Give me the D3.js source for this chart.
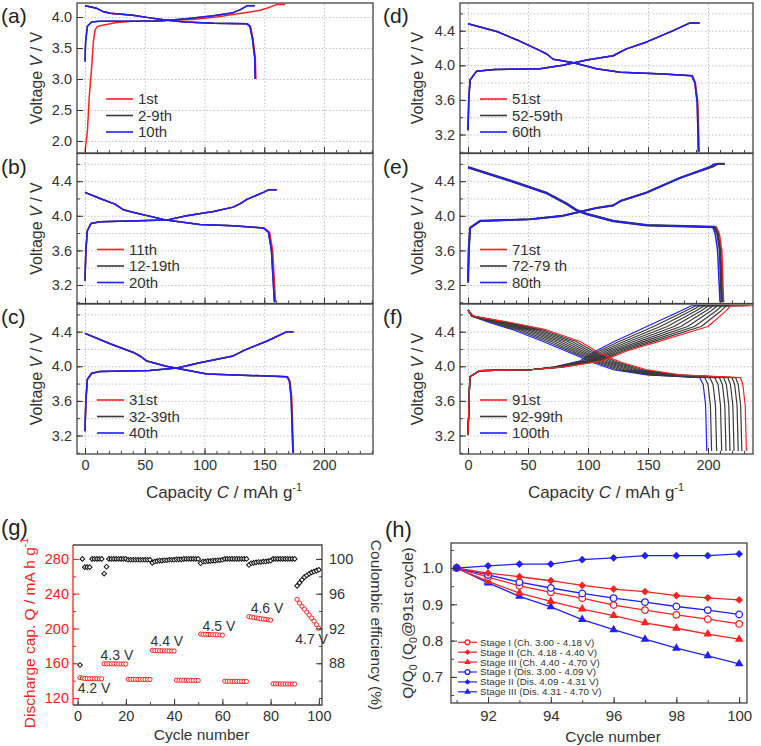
<!DOCTYPE html>
<html><head><meta charset="utf-8">
<script src="https://cdn.jsdelivr.net/npm/d3@7"></script>
<style>body{margin:0;background:#fff}text{font-family:'Liberation Sans',Arial,sans-serif}</style>
</head><body><script>
// ---------------- DATA ----------------
const capMajor = [0, 50, 100, 150, 200];
const capMinor = [0,10,20,30,40,50,60,70,80,90,100,110,120,130,140,150,160,170,180,190,200,210,220,230,240];
const voltTicksA = [2.0, 2.5, 3.0, 3.5, 4.0];
const voltTicks = [3.2, 3.6, 4.0, 4.4];
const voltGrid = [3.2, 3.4, 3.6, 3.8, 4.0, 4.2, 4.4, 4.6];
const voltMinor = [3.0, 3.2, 3.4, 3.6, 3.8, 4.0, 4.2, 4.4, 4.6];

// panel (a): cycles 1st / 2-9th / 10th
const aChg1 = [[0,1.83],[1,2.0],[2,2.15],[3.5,2.7],[5.6,3.2],[7,3.6],[8.4,3.79],[10,3.84],[12.6,3.86],[26.5,3.91],[40,3.93],[60,3.94],[90,3.96],[110,4.0],[124,4.04],[138,4.08],[146.6,4.11],[152,4.14],[160,4.2],[167.5,4.2]];
const aDis1 = [[0,4.18],[5,4.16],[9.8,4.14],[15,4.09],[21,4.06],[40,4.03],[53,3.99],[67,3.95],[84,3.92],[107.5,3.9],[136,3.89],[138.5,3.85],[140.5,3.66],[142.5,3.35],[143,3.0]];
const aChg10 = [[0,3.28],[0.5,3.6],[2,3.85],[5.6,3.92],[12,3.93],[62,3.935],[85,3.97],[107.5,4.02],[124,4.07],[130,4.12],[135.5,4.18],[142,4.18]];
const aDis10 = [[0,4.18],[5,4.16],[9.8,4.14],[15,4.09],[21,4.06],[40,4.03],[53,3.99],[67,3.95],[84,3.92],[107.5,3.9],[135.5,3.89],[138,3.85],[140,3.66],[142,3.35],[142.4,3.0]];
// panel (b): 11th / 12-19th / 20th
const bChg = [[0,3.25],[0.7,3.6],[2,3.83],[5,3.91],[12.6,3.93],[68,3.95],[85,4.0],[107.5,4.05],[124,4.1],[130,4.14],[135.5,4.19],[149.3,4.27],[153.5,4.3],[160.5,4.3]];
const bDis11 = [[0,4.27],[12.6,4.2],[25,4.135],[32,4.07],[40,4.04],[68,3.95],[96,3.9],[124,3.885],[150,3.86],[154.5,3.81],[157,3.6],[159.5,3.0]];
const bDis20 = [[0,4.27],[12.6,4.2],[25,4.135],[32,4.07],[40,4.04],[68,3.95],[96,3.9],[124,3.885],[149,3.86],[153.5,3.81],[156,3.6],[158.5,3.0]];
// panel (c): 31st / 32-39th / 40th
const cChg = [[0,3.25],[0.7,3.6],[2,3.85],[5.6,3.92],[12.6,3.94],[54,3.95],[77,3.98],[96,4.04],[124,4.12],[134,4.19],[152,4.29],[169,4.4],[174.5,4.4]];
const cDis31 = [[0,4.38],[21,4.26],[40.5,4.16],[47,4.11],[51.7,4.06],[68,4.0],[102,3.91],[169.5,3.88],[171.5,3.83],[173,3.64],[174.5,3.0]];
const cDis40 = [[0,4.38],[21,4.26],[40.5,4.16],[47,4.11],[51.7,4.06],[68,4.0],[102,3.91],[169,3.88],[171,3.83],[172.5,3.64],[174,3.0]];
// panel (d): 51st / 52-59th / 60th
const dChg = [[0,3.25],[0.6,3.6],[1.7,3.83],[7,3.93],[22,3.95],[60,3.96],[79,4.0],[99,4.06],[121,4.11],[132,4.19],[149,4.27],[171,4.4],[185,4.49],[193,4.49]];
const dDis51 = [[0,4.48],[24,4.39],[43,4.28],[60,4.17],[65.6,4.13],[71,4.07],[88,4.03],[107,3.96],[127,3.92],[163,3.9],[187,3.88],[189.5,3.8],[191.5,3.57],[192.8,3.0]];
const dDis60 = [[0,4.48],[24,4.39],[43,4.28],[60,4.17],[65.6,4.13],[71,4.07],[88,4.03],[107,3.96],[127,3.92],[163,3.9],[186.4,3.88],[189,3.8],[191,3.57],[192,3.0]];
// panel (e): 71st / 72-79th / 80th
const eChg71 = [[0,3.23],[0.6,3.6],[1.7,3.86],[10,3.94],[52,3.96],[79,4.0],[107,4.09],[121,4.12],[127,4.17],[149,4.27],[177,4.44],[204,4.57],[208,4.6],[214,4.6]];
const eChg80 = [[0,3.23],[0.6,3.6],[1.7,3.86],[10,3.94],[52,3.96],[79,4.0],[107,4.09],[121,4.12],[127,4.17],[149,4.27],[177,4.44],[202,4.57],[205,4.6],[210,4.6]];
const eDis71 = [[0,4.56],[32,4.42],[66,4.26],[82,4.14],[91,4.06],[99,4.02],[121,3.94],[149,3.89],[207,3.87],[209.5,3.79],[211.5,3.6],[213,3.0]];
const eDis75 = [[0,4.56],[32,4.42],[66,4.26],[82,4.14],[91,4.06],[99,4.02],[121,3.94],[149,3.89],[205.5,3.87],[208,3.79],[210,3.6],[211.5,3.0]];
const eDis80 = [[0,4.56],[32,4.42],[66,4.26],[82,4.14],[91,4.06],[99,4.02],[121,3.94],[149,3.89],[204,3.87],[206,3.79],[208,3.6],[210,3.0]];
// panel (f): cycles 91..100 on shared voltage levels
const fCycles = [91, 92, 93, 94, 95, 96, 97, 98, 99, 100];
const fChgV = [3.21, 3.88, 3.95, 3.96, 3.99, 4.06, 4.18, 4.28, 4.46, 4.64, 4.70, 4.70];
const fChgCap = [
  [0,1.5,10,52,79,111,133,157,200,215,219,239],
  [0,1.5,10,52,78.1,109,130.1,153,194.3,210.8,215.3,234],
  [0,1.5,10,52,77.2,107,127.2,149,188.7,206.6,211.7,230],
  [0,1.5,10,52,76.3,105,124.3,145,183,202.3,208,226],
  [0,1.5,10,52,75.4,103,121.4,141,177.3,198.1,204.3,222],
  [0,1.5,10,52,74.6,101,118.6,137,171.7,193.9,200.7,218],
  [0,1.5,10,52,73.7,99,115.7,133,166,189.7,197,214],
  [0,1.5,10,52,72.8,97,112.8,129,160.3,185.4,193.3,210],
  [0,1.5,10,52,71.9,95,109.9,125,154.7,181.2,189.7,206],
  [0,1.5,10,52,71,93,107,121,149,177,186,202]
];
const fDisV = [4.65, 4.58, 4.50, 4.42, 4.29, 4.15, 4.05, 3.96, 3.90, 3.87, 3.79, 3.55, 3.02];
const fDisCap = [
  [0,4.4,37.8,65.6,93,110,127,149,177,227,229,231,232],
  [0,4.2,35.7,62.5,89.6,107.3,124.3,145.9,173.9,223,225.2,227.2,228.2],
  [0,4.1,33.6,59.5,86.1,104.7,121.7,142.8,170.8,220,222.2,224.2,225.2],
  [0,3.9,31.5,56.4,82.7,102,119,139.7,167.7,216.5,218.7,220.7,221.7],
  [0,3.8,29.4,53.3,79.2,99.3,116.3,136.6,164.6,213,215.3,217.3,218.3],
  [0,3.6,27.4,50.3,75.8,96.7,113.7,133.4,161.4,209.5,212,214,215],
  [0,3.4,25.3,47.2,72.4,94,111,130.3,158.3,205.6,208.4,210.4,211.4],
  [0,3.3,23.2,44.1,68.9,91.3,108.3,127.2,155.2,201.5,204.2,206.2,207.2],
  [0,3.1,21.1,41.1,65.5,88.7,105.7,124.1,152.1,197.2,200,202,203],
  [0,3,19,38,62,86,103,121,149,193,196,198,199]
];

// panel (g)
const cycleNums = d3.range(1, 101);
const dischargeCap = [
  143.5,143,142.5,142.3,142.3,142.2,142.2,142.2,142.1,142.1,
  159.5,159.4,159.4,159.3,159.3,159.3,159.2,159.2,159.2,159.1,
  141.6,141.5,141.5,141.5,141.4,141.4,141.4,141.4,141.3,141.3,
  174.8,174.6,174.5,174.4,174.3,174.3,174.2,174.2,174.1,174.1,
  140.6,140.5,140.5,140.4,140.4,140.4,140.3,140.3,140.3,140.3,
  193.6,193.4,193.3,193.1,193.0,192.9,192.8,192.7,192.5,192.3,
  139.4,139.3,139.3,139.2,139.2,139.2,139.1,139.1,139.1,139.0,
  213.7,213.1,212.6,212.1,211.6,211.2,210.8,210.4,210.0,209.6,
  136.4,136.3,136.3,136.2,136.2,136.2,136.1,136.1,136.1,136.0,
  233.6,229.2,225.6,222.2,218.8,215.4,212.0,208.4,204.4,200.2
];
const coulombicEff = [
  87.8,100,99.05,99.05,99.05,100,100,100,100,100,
  98.3,99.1,100,100,100,100,100,100,100,100,
  99.9,99.9,99.9,99.9,99.9,99.9,99.9,99.9,99.9,99.9,
  99.55,99.7,99.75,99.8,99.8,99.85,99.85,99.9,99.9,99.9,
  99.95,99.95,99.95,100,100,100,100,100,100,100,
  99.5,99.7,99.7,99.75,99.75,99.8,99.8,99.85,99.85,99.9,
  100,100,100,100,100,100,100,100,100,100,
  99.3,99.5,99.55,99.6,99.65,99.65,99.7,99.7,99.75,99.8,
  100,100,100,100,100,100,100,100,100,100,
  96.9,97.25,97.6,97.9,98.1,98.3,98.45,98.55,98.65,98.75
];
const gCapTicks = [120, 160, 200, 240, 280];
const gCapMinor = [120,140,160,180,200,220,240,260,280];
const gCeTicks = [88, 92, 96, 100];
const gCeMinor = [84,86,88,90,92,94,96,98,100];
const gCycleTicks = [0, 20, 40, 60, 80, 100];
const gCycleMinor = [0,10,20,30,40,50,60,70,80,90,100];
const gVoltLabels = ["4.2 V", "4.3 V", "4.4 V", "4.5 V", "4.6 V", "4.7 V"];
const gVoltLabelCycle = [6.8, 16.3, 37, 58.6, 78.5, 97];
const gVoltLabelCap = [131.5, 169.5, 185.6, 202.8, 223.5, 187.9];

// panel (h)
const hCycles = [91, 92, 93, 94, 95, 96, 97, 98, 99, 100];
const stageIch  = [1.0,0.975,0.951,0.933,0.917,0.898,0.884,0.871,0.859,0.846];
const stageIIch = [1.0,0.986,0.976,0.965,0.952,0.942,0.935,0.924,0.918,0.912];
const stageIIIch= [1.0,0.963,0.931,0.908,0.887,0.869,0.849,0.834,0.818,0.804];
const stageIdis = [1.0,0.981,0.961,0.945,0.930,0.917,0.906,0.894,0.884,0.872];
const stageIIdis= [1.0,1.006,1.011,1.011,1.023,1.028,1.034,1.034,1.034,1.039];
const stageIIIdis=[1.0,0.959,0.922,0.893,0.858,0.830,0.804,0.779,0.758,0.736];
const hLegend = ["Stage I (Ch. 3.00 - 4.18 V)","Stage II (Ch. 4.18 - 4.40 V)","Stage III (Ch. 4.40 - 4.70 V)",
                 "Stage I (Dis. 3.00 - 4.09 V)","Stage II (Dis. 4.09 - 4.31 V)","Stage III (Dis. 4.31 - 4.70 V)"];
const hXTicks = [92, 94, 96, 98, 100];
const hXMinor = [91,92,93,94,95,96,97,98,99,100];
const hYTicks = [0.7, 0.8, 0.9, 1.0];
const hYMinor = [0.65,0.7,0.75,0.8,0.85,0.9,0.95,1.0,1.05];

// ---------------- DRAW ----------------
const W = 761, H = 746;
const svg = d3.select("body").append("svg").attr("width", W).attr("height", H);
const TXT = "#333", FRAME = "#444", GRID = "#c2c2c2";
const RED = "#ff2020", BLUE = "#2020ff", BLK = "#3a3a3a";
const TICKFS = "14.5px";

function tidy(sel, color, fs) {
  sel.select(".domain").remove();
  sel.selectAll(".tick line").attr("stroke", color).attr("stroke-width", 1);
  sel.selectAll(".tick text").attr("fill", color).style("font-size", fs || TICKFS);
}
function gridify(sel) {
  sel.select(".domain").remove();
  sel.selectAll(".tick line").attr("stroke", GRID).attr("stroke-dasharray", "1.5,2").attr("stroke-width", 1);
}
const zip = (cs, vs) => cs.map((c, i) => [c, vs[i]]);

function vPanel(p) {
  const g = svg.append("g");
  const x = d3.scaleLinear().domain(p.xd).range([p.l, p.r]);
  const y = d3.scaleLinear().domain(p.yd).range([p.b, p.t]);
  const id = "clip" + p.name;
  svg.append("clipPath").attr("id", id).append("rect")
    .attr("x", p.l).attr("y", p.t).attr("width", p.r - p.l).attr("height", p.b - p.t);
  g.append("g").attr("transform", `translate(0,${p.b})`)
    .call(d3.axisBottom(x).tickValues(capMajor).tickSize(-(p.b - p.t)).tickFormat("")).call(gridify);
  g.append("g").attr("transform", `translate(${p.l},0)`)
    .call(d3.axisLeft(y).tickValues(p.yGrid).tickSize(-(p.r - p.l)).tickFormat("")).call(gridify);
  const line = d3.line().x(d => x(d[0])).y(d => y(d[1]));
  const cg = g.append("g").attr("clip-path", `url(#${id})`);
  p.series.forEach(s => cg.append("path").attr("d", line(s.d)).attr("fill", "none")
    .attr("stroke", s.c).attr("stroke-width", s.w || 1.5).attr("stroke-linejoin", "round"));
  g.append("g").attr("transform", `translate(0,${p.b})`)
    .call(d3.axisBottom(x).tickValues(capMinor.filter(v => v <= p.xd[1])).tickSize(-3).tickFormat("")).call(s => tidy(s, FRAME));
  g.append("g").attr("transform", `translate(0,${p.b})`)
    .call(d3.axisBottom(x).tickValues(capMajor).tickSize(-6).tickPadding(6).tickFormat(p.xLab ? d3.format("d") : ""))
    .call(s => tidy(s, TXT));
  if (p.yMinor) g.append("g").attr("transform", `translate(${p.l},0)`)
    .call(d3.axisLeft(y).tickValues(p.yMinor).tickSize(-3).tickFormat("")).call(s => tidy(s, FRAME));
  g.append("g").attr("transform", `translate(${p.l},0)`)
    .call(d3.axisLeft(y).tickValues(p.yTicks).tickSize(-6).tickPadding(5).tickFormat(d3.format(".1f")))
    .call(s => tidy(s, TXT));
  g.append("rect").attr("x", p.l).attr("y", p.t).attr("width", p.r - p.l).attr("height", p.b - p.t)
    .attr("fill", "none").attr("stroke", FRAME).attr("stroke-width", 1.3);
  // legend
  p.legend.forEach((it, i) => {
    const yy = p.t + 96 + i * 16.5;
    g.append("line").attr("x1", p.lx).attr("x2", p.lx + 27).attr("y1", yy).attr("y2", yy)
      .attr("stroke", it.c).attr("stroke-width", 1.6);
    g.append("text").attr("x", p.lx + 32).attr("y", yy).attr("dy", "0.35em").attr("fill", TXT)
      .style("font-size", "15px").text(it.t);
  });
  // y label
  const yl = g.append("text").attr("transform", `translate(${p.ylx},${(p.t + p.b) / 2}) rotate(-90)`)
    .attr("text-anchor", "middle").attr("fill", TXT).style("font-size", "16px");
  yl.append("tspan").text("Voltage ");
  yl.append("tspan").attr("font-style", "italic").text("V");
  yl.append("tspan").text(" / V");
  g.append("text").attr("x", p.labx).attr("y", p.t + 20).attr("fill", "#222").style("font-size", "21px").text(p.letter);
}

const LX = [-6.7, 241], RX = [-6.7, 237.5];
const rows = [3, 153.5, 304];
const VD = [2.986, 4.72];
const leftCol = {l: 77, r: 373, ylx: 42, labx: 1}, rightCol = {l: 460, r: 753, ylx: 423, labx: 383};

vPanel({name: "a", letter: "(a)", ...leftCol, xd: LX, t: rows[0], b: rows[0] + 150, yd: [1.806, 4.226],
  yTicks: voltTicksA, yGrid: voltTicksA, yMinor: null, xLab: false, lx: 106,
  series: [{c: RED, d: aChg1}, {c: RED, d: aDis1}, {c: BLK, d: aChg10}, {c: BLK, d: aDis10}, {c: BLUE, d: aChg10}, {c: BLUE, d: aDis10}],
  legend: [{c: RED, t: "1st"}, {c: BLK, t: "2-9th"}, {c: BLUE, t: "10th"}]});
vPanel({name: "b", letter: "(b)", ...leftCol, xd: LX, t: rows[1], b: rows[1] + 150, yd: VD,
  yTicks: voltTicks, yGrid: voltGrid, yMinor: voltMinor, xLab: false, lx: 97,
  series: [{c: RED, d: bChg}, {c: RED, d: bDis11}, {c: BLK, d: bChg}, {c: BLK, d: bDis20}, {c: BLUE, d: bChg}, {c: BLUE, d: bDis20}],
  legend: [{c: RED, t: "11th"}, {c: BLK, t: "12-19th"}, {c: BLUE, t: "20th"}]});
vPanel({name: "c", letter: "(c)", ...leftCol, xd: LX, t: rows[2], b: rows[2] + 150, yd: VD,
  yTicks: voltTicks, yGrid: voltGrid, yMinor: voltMinor, xLab: true, lx: 97,
  series: [{c: RED, d: cChg}, {c: RED, d: cDis31}, {c: BLK, d: cChg}, {c: BLK, d: cDis40}, {c: BLUE, d: cChg}, {c: BLUE, d: cDis40}],
  legend: [{c: RED, t: "31st"}, {c: BLK, t: "32-39th"}, {c: BLUE, t: "40th"}]});
vPanel({name: "d", letter: "(d)", ...rightCol, xd: RX, t: rows[0], b: rows[0] + 150, yd: VD,
  yTicks: voltTicks, yGrid: voltGrid, yMinor: voltMinor, xLab: false, lx: 480,
  series: [{c: RED, d: dChg}, {c: RED, d: dDis51}, {c: BLK, d: dChg}, {c: BLK, d: dDis60}, {c: BLUE, d: dChg}, {c: BLUE, d: dDis60}],
  legend: [{c: RED, t: "51st"}, {c: BLK, t: "52-59th"}, {c: BLUE, t: "60th"}]});
vPanel({name: "e", letter: "(e)", ...rightCol, xd: RX, t: rows[1], b: rows[1] + 150, yd: VD,
  yTicks: voltTicks, yGrid: voltGrid, yMinor: voltMinor, xLab: false, lx: 480,
  series: [{c: RED, d: eChg71}, {c: RED, d: eDis71}, {c: BLK, d: eChg71, w: 2.2}, {c: BLK, d: eDis75, w: 2.6}, {c: BLUE, d: eChg80}, {c: BLUE, d: eDis80}],
  legend: [{c: RED, t: "71st"}, {c: BLK, t: "72-79 th"}, {c: BLUE, t: "80th"}]});
{
  const fSeries = [];
  const colorOf = i => i === fCycles.length - 1 ? BLUE : (i === 0 ? RED : BLK);
  const order = [9, 1, 2, 3, 4, 5, 6, 7, 8, 0];
  order.forEach(i => {
    fSeries.push({c: colorOf(i), d: zip(fChgCap[i], fChgV), w: 1.2});
    fSeries.push({c: colorOf(i), d: zip(fDisCap[i], fDisV), w: 1.2});
  });
  vPanel({name: "f", letter: "(f)", ...rightCol, xd: RX, t: rows[2], b: rows[2] + 150, yd: VD,
    yTicks: voltTicks, yGrid: voltGrid, yMinor: voltMinor, xLab: true, lx: 480,
    series: fSeries,
    legend: [{c: RED, t: "91st"}, {c: BLK, t: "92-99th"}, {c: BLUE, t: "100th"}]});
}
// x labels for capacity columns
[[224, 0], [606, 0]].forEach(([cx]) => {
  const t = svg.append("text").attr("x", cx).attr("y", 498).attr("text-anchor", "middle").attr("fill", TXT).style("font-size", "17px");
  t.append("tspan").text("Capacity ");
  t.append("tspan").attr("font-style", "italic").text("C");
  t.append("tspan").text(" / mAh g");
  t.append("tspan").attr("dy", -7).style("font-size", "11px").text("-1");
});

// ---------------- panel (g) ----------------
{
  const L = 73, R = 322, T = 545, B = 705;
  const g = svg.append("g");
  const x = d3.scaleLinear().domain([-1.9, 101.3]).range([L, R]);
  const yQ = d3.scaleLinear().domain([112, 296]).range([B, T]);
  const yC = d3.scaleLinear().domain([83.2, 101.6]).range([B, T]);
  const diamond = d3.symbol().type(d3.symbolSquare).size(11);
  g.selectAll(".ce").data(cycleNums).enter().append("path").attr("d", diamond)
    .attr("transform", (d, i) => `translate(${x(d)},${yC(coulombicEff[i])}) rotate(45)`)
    .attr("fill", "#fff").attr("stroke", "#111").attr("stroke-width", 1);
  g.selectAll(".q").data(cycleNums).enter().append("circle")
    .attr("cx", d => x(d)).attr("cy", (d, i) => yQ(dischargeCap[i])).attr("r", 2.1)
    .attr("fill", "#fff").attr("stroke", RED).attr("stroke-width", 1);
  gVoltLabels.forEach((t, i) => g.append("text").attr("x", x(gVoltLabelCycle[i])).attr("y", yQ(gVoltLabelCap[i]))
    .attr("dy", "0.35em").attr("text-anchor", "middle").attr("fill", TXT).style("font-size", "14px").text(t));
  g.append("g").attr("transform", `translate(0,${B})`).call(d3.axisBottom(x).tickValues(gCycleMinor).tickSize(-3).tickFormat("")).call(s => tidy(s, FRAME));
  g.append("g").attr("transform", `translate(0,${B})`).call(d3.axisBottom(x).tickValues(gCycleTicks).tickSize(-6).tickPadding(6).tickFormat(d3.format("d"))).call(s => tidy(s, TXT));
  g.append("g").attr("transform", `translate(${L},0)`).call(d3.axisLeft(yQ).tickValues(gCapMinor).tickSize(-3).tickFormat("")).call(s => tidy(s, RED));
  g.append("g").attr("transform", `translate(${L},0)`).call(d3.axisLeft(yQ).tickValues(gCapTicks).tickSize(-6).tickPadding(4).tickFormat(d3.format("d"))).call(s => tidy(s, RED));
  g.append("g").attr("transform", `translate(${R},0)`).call(d3.axisRight(yC).tickValues(gCeMinor).tickSize(-3).tickFormat("")).call(s => tidy(s, FRAME));
  g.append("g").attr("transform", `translate(${R},0)`).call(d3.axisRight(yC).tickValues(gCeTicks).tickSize(-6).tickPadding(7).tickFormat(d3.format("d"))).call(s => tidy(s, TXT));
  g.append("path").attr("d", `M${L},${T}H${R}V${B}H${L}`).attr("fill", "none").attr("stroke", FRAME).attr("stroke-width", 1.3);
  g.append("line").attr("x1", L).attr("x2", L).attr("y1", T).attr("y2", B).attr("stroke", RED).attr("stroke-width", 1.3);
  const yl = g.append("text").attr("transform", `translate(35,${(T + B) / 2 + 8}) rotate(-90)`).attr("text-anchor", "middle").attr("fill", RED).style("font-size", "15.5px");
  yl.append("tspan").text("Discharge cap. Q / mA h g");
  yl.append("tspan").attr("dy", -7).style("font-size", "10.5px").text("-1");
  g.append("text").attr("transform", `translate(371,${(T + B) / 2}) rotate(90)`).attr("text-anchor", "middle").attr("fill", TXT).style("font-size", "15.5px").text("Coulombic efficiency (%)");
  g.append("text").attr("x", (L + R) / 2 + 4).attr("y", 740).attr("text-anchor", "middle").attr("fill", TXT).style("font-size", "15.5px").text("Cycle number");
  g.append("text").attr("x", 1).attr("y", 535).attr("fill", "#222").style("font-size", "22px").text("(g)");
}

// ---------------- panel (h) ----------------
{
  const L = 451, R = 747, T = 543, B = 703;
  const g = svg.append("g");
  const x = d3.scaleLinear().domain([90.82, 100.25]).range([L, R]);
  const y = d3.scaleLinear().domain([0.628, 1.069]).range([B, T]);
  const line = d3.line().x((d, i) => x(hCycles[i])).y(d => y(d));
  const sets = [
    {d: stageIch, c: RED, m: "circle"}, {d: stageIIch, c: RED, m: "diamond"}, {d: stageIIIch, c: RED, m: "triangle"},
    {d: stageIdis, c: BLUE, m: "circle"}, {d: stageIIdis, c: BLUE, m: "diamond"}, {d: stageIIIdis, c: BLUE, m: "triangle"}
  ];
  function marker(sel, s, scale) {
    if (s.m === "circle") sel.append("circle").attr("r", 3.3 * scale).attr("fill", "#fff").attr("stroke", s.c).attr("stroke-width", 1.3);
    else if (s.m === "diamond") sel.append("path").attr("d", d3.symbol().type(d3.symbolSquare).size(30 * scale * scale)()).attr("transform", "rotate(45)").attr("fill", s.c);
    else sel.append("path").attr("d", d3.symbol().type(d3.symbolTriangle).size(32 * scale * scale)()).attr("fill", s.c);
  }
  const drawOrder = [5, 2, 0, 3, 1, 4];
  drawOrder.forEach(k => {
    const s = sets[k];
    g.append("path").attr("d", line(s.d)).attr("fill", "none").attr("stroke", s.c).attr("stroke-width", 1.3);
    s.d.forEach((v, i) => marker(g.append("g").attr("transform", `translate(${x(hCycles[i])},${y(v)})`), s, 1));
  });
  g.append("g").attr("transform", `translate(0,${B})`).call(d3.axisBottom(x).tickValues(hXMinor).tickSize(-3).tickFormat("")).call(s => tidy(s, FRAME));
  g.append("g").attr("transform", `translate(0,${B})`).call(d3.axisBottom(x).tickValues(hXTicks).tickSize(-6).tickPadding(7).tickFormat(d3.format("d"))).call(s => tidy(s, TXT, "15px"));
  g.append("g").attr("transform", `translate(${L},0)`).call(d3.axisLeft(y).tickValues(hYMinor).tickSize(-3).tickFormat("")).call(s => tidy(s, FRAME));
  g.append("g").attr("transform", `translate(${L},0)`).call(d3.axisLeft(y).tickValues(hYTicks).tickSize(-6).tickPadding(8).tickFormat(d3.format(".1f"))).call(s => tidy(s, TXT, "15px"));
  g.append("rect").attr("x", L).attr("y", T).attr("width", R - L).attr("height", B - T).attr("fill", "none").attr("stroke", FRAME).attr("stroke-width", 1.3);
  // legend
  hLegend.forEach((t, i) => {
    const yy = 642.3 + i * 9.9;
    const s = sets[i];
    g.append("line").attr("x1", 458).attr("x2", 477).attr("y1", yy).attr("y2", yy).attr("stroke", s.c).attr("stroke-width", 1.2);
    marker(g.append("g").attr("transform", `translate(467.5,${yy})`), s, 0.75);
    g.append("text").attr("x", 480).attr("y", yy).attr("dy", "0.35em").attr("fill", TXT).style("font-size", "9.8px").text(t);
  });
  const yl = g.append("text").attr("transform", `translate(413,${(T + B) / 2}) rotate(-90)`).attr("text-anchor", "middle").attr("fill", TXT).style("font-size", "15.5px");
  yl.append("tspan").text("Q/Q");
  yl.append("tspan").attr("dy", 4).style("font-size", "10.5px").text("0");
  yl.append("tspan").attr("dy", -4).text(" (Q");
  yl.append("tspan").attr("dy", 4).style("font-size", "10.5px").text("0");
  yl.append("tspan").attr("dy", -4).text("@91st cycle)");
  g.append("text").attr("x", 613).attr("y", 742).attr("text-anchor", "middle").attr("fill", TXT).style("font-size", "15.5px").text("Cycle number");
  g.append("text").attr("x", 385).attr("y", 537).attr("fill", "#222").style("font-size", "22px").text("(h)");
}
</script></body></html>
